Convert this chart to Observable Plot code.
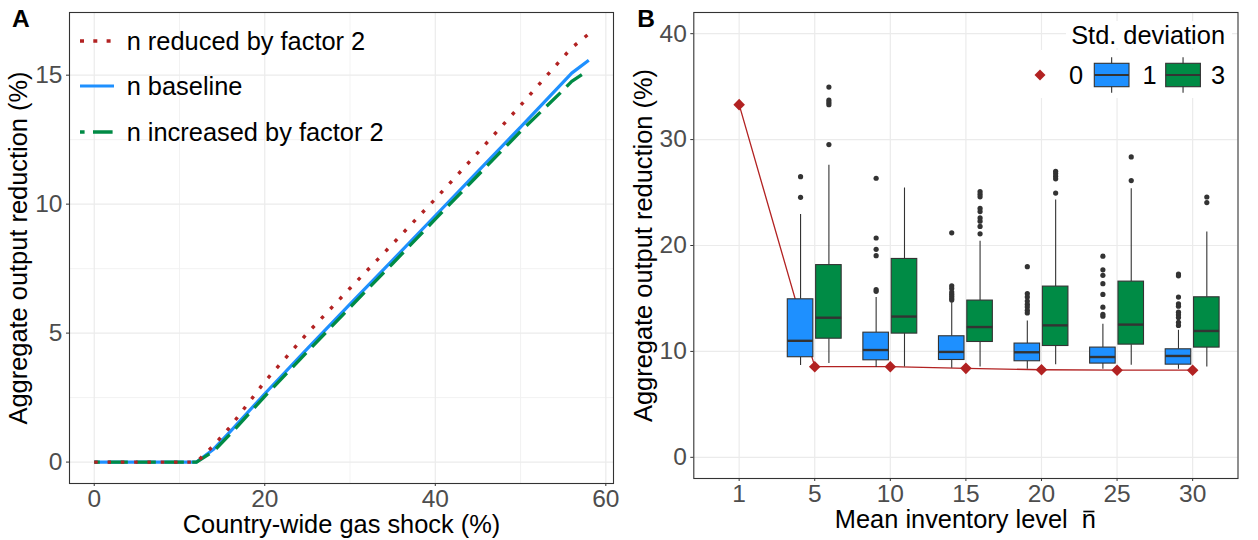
<!DOCTYPE html>
<html><head><meta charset="utf-8">
<script src="https://cdn.jsdelivr.net/npm/d3@7"></script>
<script src="https://cdn.jsdelivr.net/npm/@observablehq/plot@0.6"></script>
<style>
html,body{margin:0;padding:0;background:#fff;}
#wrap{position:relative;width:1258px;height:540px;overflow:hidden;font-family:"Liberation Sans",Arial,sans-serif;background:#fff;}
.pane{position:absolute;top:0;}
#overlay{position:absolute;left:0;top:0;pointer-events:none;}
</style></head><body><div id="wrap"><div id="pa" class="pane" style="left:0"></div><div id="pb" class="pane" style="left:628px"></div></div>
<script>
// ---------- Panel A data ----------
const shockX      = [0, 12, 14, 16, 20, 25, 30, 35, 40, 45, 50, 55, 56, 58];
const reducedN    = [0, 0, 0.64, 1.39, 3.12, 5.0, 6.74, 8.46, 10.2, 12.0, 13.83, 15.7, 16.06, 16.6];
const baselineN   = [0, 0, 0.5, 1.2, 2.65, 4.4, 6.12, 7.83, 9.55, 11.27, 12.99, 14.73, 15.08, 15.58];
const increasedN  = [0, 0, 0.42, 1.1, 2.55, 4.28, 6.0, 7.7, 9.42, 11.12, 12.82, 14.42, 14.76, 15.2];
const legendA     = ["n reduced by factor 2", "n baseline", "n increased by factor 2"];
const xTicksA     = [0, 20, 40, 60];
const yTicksA     = [0, 5, 10, 15];

// ---------- Panel B data ----------
const nLevels = ["1", "5", "10", "15", "20", "25", "30"];
const sd0     = [33.3, 8.56, 8.56, 8.4, 8.27, 8.23, 8.23];
// sd = 1 boxes (n = 5..30)
const sd1Low  = [8.68, 8.47, 8.4, 8.31, 8.31, 8.31];
const sd1Q1   = [9.45, 9.16, 9.19, 9.07, 8.85, 8.75];
const sd1Med  = [11.0, 10.13, 9.95, 9.92, 9.47, 9.57];
const sd1Q3   = [14.92, 11.77, 11.43, 10.74, 10.36, 10.2];
const sd1High = [22.92, 15.1, 14.6, 12.87, 12.56, 11.99];
const sd1Out  = [[26.5, 24.55], [26.35, 20.71, 19.64, 19.04, 15.84, 15.67],
  [21.2, 16.2, 15.95, 15.6, 15.4, 15.2, 15.0, 14.85],
  [18.0, 15.46, 15.14, 14.76, 14.45, 14.2, 13.88, 13.63],
  [18.99, 17.7, 17.18, 16.4, 15.38, 14.18, 13.5, 13.32],
  [17.3, 17.14, 15.13, 14.5, 14.27, 13.7, 13.45, 13.2, 12.75, 12.45]];
// sd = 3 boxes (n = 5..30)
const sd3Low  = [8.85, 8.53, 8.53, 8.75, 8.69, 8.53];
const sd3Q1   = [11.2, 11.68, 10.89, 10.51, 10.64, 10.36];
const sd3Med  = [13.18, 13.29, 12.3, 12.46, 12.53, 11.93];
const sd3Q3   = [18.15, 18.73, 14.8, 16.12, 16.59, 15.11];
const sd3High = [27.58, 25.43, 20.4, 24.3, 25.37, 21.27];
const sd3Out  = [[34.96, 33.72, 33.5, 33.3, 29.53], [],
  [25.1, 24.85, 24.6, 23.5, 23.2, 22.6, 22.3, 21.8, 21.1],
  [27.0, 26.8, 26.55, 26.3, 24.95], [28.36, 26.13], [24.58, 24.05]];
const yTicksB = [0, 10, 20, 30, 40];
const legendBTitle = "Std. deviation";
const legendBLabels = ["0", "1", "3"];
const xTitleB = ["Mean inventory level", "n"];

const RED = "#B22222", BLUE = "#1E90FF", GREEN = "#008B45";
const FONT = '"Liberation Sans", Arial, sans-serif';

// ---------- Panel A ----------
const yMaxA = d3.max([...reducedN, ...baselineN, ...increasedN]);
const padY = 0.05 * yMaxA, padX = 0.05 * (d3.max(shockX) - d3.min(shockX));
const plotA = Plot.plot({
  width: 625, height: 540,
  marginLeft: 69, marginRight: 12, marginTop: 12, marginBottom: 57,
  style: {fontFamily: FONT, fontSize: "25px", background: "transparent", overflow: "visible"},
  x: {domain: [d3.min(shockX) - padX, d3.max(shockX) + padX]},
  y: {domain: [-padY, yMaxA + padY]},
  marks: [
    Plot.gridX([10, 30, 50], {stroke: "#F0F0F0", strokeOpacity: 1, strokeWidth: 0.9}),
    Plot.gridY([2.5, 7.5, 12.5], {stroke: "#F0F0F0", strokeOpacity: 1, strokeWidth: 0.9}),
    Plot.gridX(xTicksA, {stroke: "#EBEBEB", strokeOpacity: 1, strokeWidth: 1.2}),
    Plot.gridY(yTicksA, {stroke: "#EBEBEB", strokeOpacity: 1, strokeWidth: 1.2}),
    Plot.line(shockX, {x: d => d, y: (d, i) => baselineN[i], stroke: BLUE, strokeWidth: 3.2, strokeLinecap: "butt"}),
    Plot.line(shockX, {x: d => d, y: (d, i) => increasedN[i], stroke: GREEN, strokeWidth: 3.3, strokeDasharray: "19.6,8.4", strokeDashoffset: 14, strokeLinecap: "butt"}),
    Plot.line(shockX, {x: d => d, y: (d, i) => reducedN[i], stroke: RED, strokeWidth: 3.4, strokeDasharray: "3.5,9.8", strokeLinecap: "butt"}),
    Plot.frame({stroke: "#333333", strokeWidth: 1.1}),
    Plot.axisX(xTicksA, {tickSize: 3, tickPadding: 3, fontSize: 24.5, fill: "#4D4D4D", stroke: "#333333", label: null}),
    Plot.axisY(yTicksA, {tickSize: 3, tickPadding: 4, fontSize: 24.5, fill: "#4D4D4D", stroke: "#333333", label: null}),
    Plot.text(["Country-wide gas shock (%)"], {text: d => d, frameAnchor: "bottom", dy: 41, textAnchor: "middle", lineAnchor: "middle", fontSize: 25.4, fill: "#000"}),
    Plot.text(["Aggregate output reduction (%)"], {text: d => d, frameAnchor: "left", dx: -51, rotate: -90, textAnchor: "middle", lineAnchor: "middle", fontSize: 25.4, fill: "#000"}),
    Plot.text(["A"], {text: d => d, frameAnchor: "top-left", dx: -57.5, dy: 7, textAnchor: "start", lineAnchor: "middle", fontSize: 24.5, fontWeight: "bold", fill: "#000"})
  ]
});
document.getElementById("pa").appendChild(plotA);

// ---------- Panel B ----------
const DODGE = 0.1875, HW = 0.169;
function buildBoxes(low, q1, med, q3, high, off) {
  return low.map((_, j) => {
    const x = j + 1 + off;
    return {x, x1: x - HW, x2: x + HW, low: low[j], q1: q1[j], med: med[j], q3: q3[j], high: high[j]};
  });
}
const boxes1 = buildBoxes(sd1Low, sd1Q1, sd1Med, sd1Q3, sd1High, -DODGE);
const boxes3 = buildBoxes(sd3Low, sd3Q1, sd3Med, sd3Q3, sd3High, DODGE);
const outliers = [
  ...sd1Out.flatMap((arr, j) => arr.map(y => ({x: j + 1 - DODGE, y}))),
  ...sd3Out.flatMap((arr, j) => arr.map(y => ({x: j + 1 + DODGE, y})))
];
const boxMarks = (data, fill) => [
  Plot.ruleX(data, {x: "x", y1: "low", y2: "q1", stroke: "#333333", strokeWidth: 1.1}),
  Plot.ruleX(data, {x: "x", y1: "q3", y2: "high", stroke: "#333333", strokeWidth: 1.1}),
  Plot.rect(data, {x1: "x1", x2: "x2", y1: "q1", y2: "q3", fill, stroke: "#333333", strokeWidth: 1.1}),
  Plot.ruleY(data, {y: "med", x1: "x1", x2: "x2", stroke: "#333333", strokeWidth: 2.4})
];
const idx = nLevels.map((_, i) => i);
const plotB = Plot.plot({
  width: 630, height: 540,
  marginLeft: 65.3, marginRight: 20.5, marginTop: 12, marginBottom: 62,
  style: {fontFamily: FONT, fontSize: "25px", background: "transparent", overflow: "visible"},
  x: {domain: [-0.6, nLevels.length - 0.4]},
  y: {domain: [-2, 42]},
  marks: [
    Plot.gridX(idx, {stroke: "#EBEBEB", strokeOpacity: 1, strokeWidth: 1.2}),
    Plot.gridY(yTicksB, {stroke: "#EBEBEB", strokeOpacity: 1, strokeWidth: 1.2}),
    Plot.line(sd0, {x: (d, i) => i, y: d => d, stroke: RED, strokeWidth: 1.3}),
    Plot.dot(outliers, {x: "x", y: "y", r: 2.6, fill: "#333333"}),
    ...boxMarks(boxes1, BLUE),
    ...boxMarks(boxes3, GREEN),
    Plot.dot(sd0, {x: (d, i) => i, y: d => d, symbol: "diamond2", r: 5.2, fill: RED}),
    Plot.frame({stroke: "#333333", strokeWidth: 1.1}),
    Plot.axisX(idx, {tickFormat: i => nLevels[i], tickSize: 3, tickPadding: 3, fontSize: 24.5, fill: "#4D4D4D", stroke: "#333333", label: null}),
    Plot.axisY(yTicksB, {tickSize: 3, tickPadding: 4, fontSize: 24.5, fill: "#4D4D4D", stroke: "#333333", label: null}),
    Plot.text(["Aggregate output reduction (%)"], {text: d => d, frameAnchor: "left", dx: -49.5, rotate: -90, textAnchor: "middle", lineAnchor: "middle", fontSize: 25.4, fill: "#000"}),
    Plot.text(["B"], {text: d => d, frameAnchor: "top-left", dx: -56.5, dy: 7, textAnchor: "start", lineAnchor: "middle", fontSize: 24.5, fontWeight: "bold", fill: "#000"})
  ]
});
document.getElementById("pb").appendChild(plotB);

// ---------- Legends and x-title with overlined n (overlay) ----------
const NS = "http://www.w3.org/2000/svg";
const ov = document.createElementNS(NS, "svg");
ov.setAttribute("id", "overlay");
ov.setAttribute("width", 1258); ov.setAttribute("height", 540);
ov.style.fontFamily = FONT;
function el(tag, attrs, text, parent) {
  const e = document.createElementNS(NS, tag);
  for (const k in attrs) e.setAttribute(k, attrs[k]);
  if (text != null) e.textContent = text;
  (parent || ov).appendChild(e);
  return e;
}
document.getElementById("wrap").appendChild(ov);
// x title of panel B, with an overlined n
const tB = el("text", {x: 965.4, y: 528, "text-anchor": "middle", "font-size": 25.4, fill: "#000"});
el("tspan", {}, xTitleB[0] + "\u00A0\u00A0", tB);
el("tspan", {}, xTitleB[1], tB);
const ext = tB.getExtentOfChar(tB.getNumberOfChars() - 1);
el("line", {x1: ext.x + 1.5, x2: ext.x + ext.width - 1.5, y1: 511.5, y2: 511.5, stroke: "#000", "stroke-width": 1.6});
// Legend A
const rowsA = [41, 86, 132];
const styleA = [
  {stroke: RED, "stroke-width": 3.4, "stroke-dasharray": "4,9.3"},
  {stroke: BLUE, "stroke-width": 3.2},
  {stroke: GREEN, "stroke-width": 3.3, "stroke-dasharray": "19.6,8.4", "stroke-dashoffset": 15}
];
legendA.forEach((lab, i) => {
  el("line", Object.assign({x1: 80, x2: 114, y1: rowsA[i], y2: rowsA[i], "stroke-linecap": "butt"}, styleA[i]));
  el("text", {x: 126.7, y: rowsA[i], "dominant-baseline": "central", "font-size": 25.4, fill: "#000"}, lab);
});
// Legend B
el("rect", {x: 1066, y: 21, width: 166, height: 27, fill: "#fff"});
el("rect", {x: 1027, y: 50, width: 208, height: 48, fill: "#fff"});
el("text", {x: 1225, y: 35, "text-anchor": "end", "dominant-baseline": "central", "font-size": 25.4, fill: "#000"}, legendBTitle);
const ky = 75;
el("path", {d: `M1040,${ky - 5.5}L1045.5,${ky}L1040,${ky + 5.5}L1034.5,${ky}Z`, fill: RED});
el("text", {x: 1069, y: ky, "dominant-baseline": "central", "font-size": 25.4, fill: "#000"}, legendBLabels[0]);
[[1094.3, BLUE, 1142.5, legendBLabels[1]], [1165.7, GREEN, 1211, legendBLabels[2]]].forEach(([x0, c, tx, lab]) => {
  const w = 34.7, cx = x0 + w / 2;
  el("line", {x1: cx, x2: cx, y1: 57.3, y2: 92.7, stroke: "#333", "stroke-width": 1.1});
  el("rect", {x: x0, y: 63.3, width: w, height: 23.4, fill: c, stroke: "#333", "stroke-width": 1.1});
  el("line", {x1: x0, x2: x0 + w, y1: ky, y2: ky, stroke: "#333", "stroke-width": 2.2});
  el("text", {x: tx, y: ky, "dominant-baseline": "central", "font-size": 25.4, fill: "#000"}, lab);
});
</script>
</body></html>
